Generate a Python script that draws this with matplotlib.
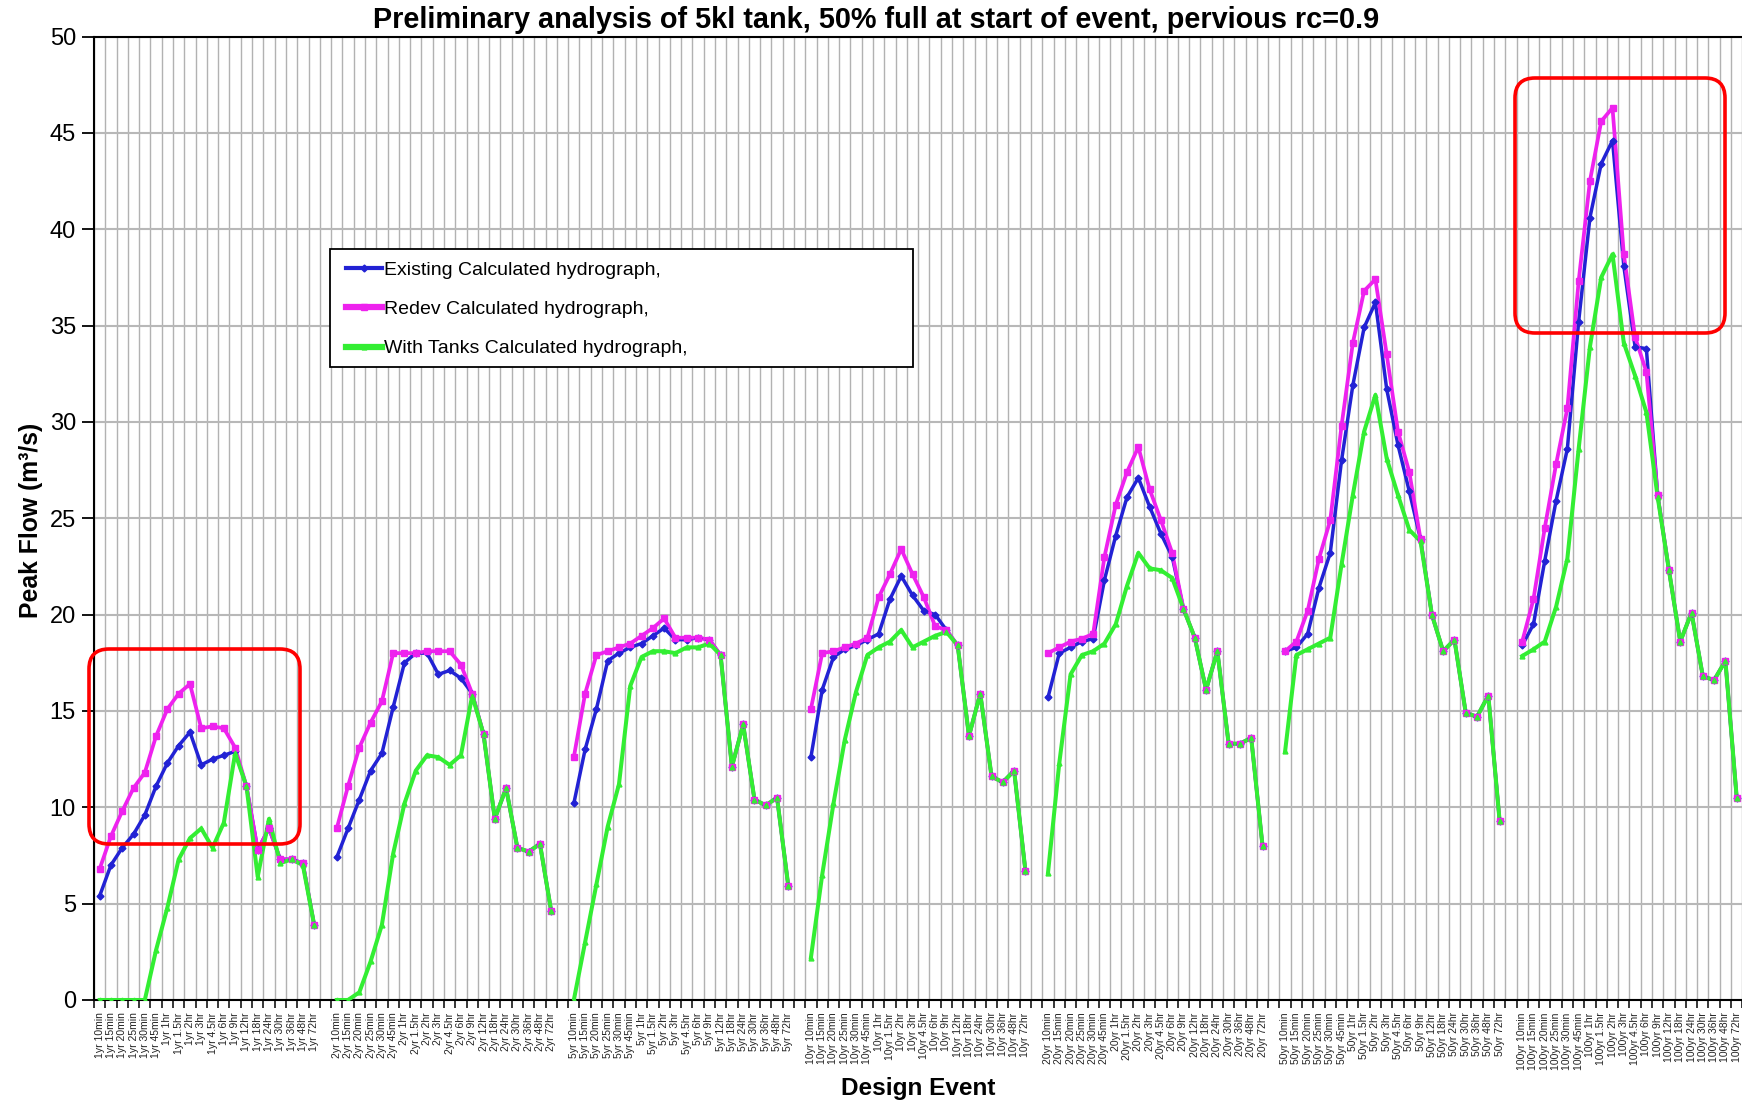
import numpy as np
import matplotlib
matplotlib.use("Agg")
import matplotlib.pyplot as plt
from matplotlib.lines import Line2D
from matplotlib.patches import Rectangle, FancyBboxPatch

plt.rcParams['font.family'] = ['Liberation Sans', 'DejaVu Sans']

# Design events: return period x storm duration
aris = ["1yr", "2yr", "5yr", "10yr", "20yr", "50yr", "100yr"]
durations = ["10min", "15min", "20min", "25min", "30min", "45min", "1hr", "1.5hr",
             "2hr", "3hr", "4.5hr", "6hr", "9hr", "12hr", "18hr", "24hr",
             "30hr", "36hr", "48hr", "72hr"]

# Peak flows (m3/s) - existing catchment
existing_1yr = [5.4, 7.0, 7.9, 8.6, 9.6, 11.1, 12.3, 13.2, 13.9, 12.2, 12.5, 12.7, 12.9, 11.1, 7.8, 8.9, 7.3, 7.3, 7.1, 3.9]
existing_2yr = [7.4, 8.9, 10.4, 11.9, 12.8, 15.2, 17.5, 18.0, 18.0, 16.9, 17.1, 16.7, 15.9, 13.8, 9.4, 11.0, 7.9, 7.7, 8.1, 4.6]
existing_5yr = [10.2, 13.0, 15.1, 17.6, 18.0, 18.3, 18.5, 18.9, 19.3, 18.7, 18.7, 18.8, 18.7, 17.9, 12.1, 14.3, 10.4, 10.1, 10.5, 5.9]
existing_10yr = [12.6, 16.1, 17.8, 18.2, 18.4, 18.7, 19.0, 20.8, 22.0, 21.0, 20.2, 20.0, 19.2, 18.4, 13.7, 15.9, 11.6, 11.3, 11.9, 6.7]
existing_20yr = [15.7, 18.0, 18.3, 18.6, 18.75, 21.8, 24.1, 26.1, 27.1, 25.6, 24.2, 23.0, 20.3, 18.8, 16.1, 18.1, 13.3, 13.3, 13.6, 8.0]
existing_50yr = [18.1, 18.3, 19.0, 21.4, 23.2, 28.0, 31.9, 34.9, 36.2, 31.7, 28.8, 26.4, 23.9, 20.0, 18.1, 18.7, 14.9, 14.7, 15.8, 9.3]
existing_100yr = [18.4, 19.5, 22.8, 25.9, 28.6, 35.2, 40.6, 43.4, 44.6, 38.1, 33.9, 33.8, 26.2, 22.3, 18.6, 20.1, 16.8, 16.6, 17.6, 10.5]

# Peak flows (m3/s) - redeveloped catchment
redev_1yr = [6.8, 8.5, 9.8, 11.0, 11.8, 13.7, 15.1, 15.9, 16.4, 14.1, 14.2, 14.1, 13.1, 11.1, 7.8, 8.9, 7.3, 7.3, 7.1, 3.9]
redev_2yr = [8.9, 11.1, 13.1, 14.4, 15.5, 18.0, 18.0, 18.0, 18.1, 18.1, 18.1, 17.4, 15.9, 13.8, 9.4, 11.0, 7.9, 7.7, 8.1, 4.6]
redev_5yr = [12.6, 15.9, 17.9, 18.1, 18.3, 18.5, 18.9, 19.3, 19.8, 18.8, 18.8, 18.8, 18.7, 17.9, 12.1, 14.3, 10.4, 10.1, 10.5, 5.9]
redev_10yr = [15.1, 18.0, 18.1, 18.3, 18.5, 18.8, 20.9, 22.1, 23.4, 22.1, 20.9, 19.4, 19.2, 18.4, 13.7, 15.9, 11.6, 11.3, 11.9, 6.7]
redev_20yr = [18.0, 18.3, 18.6, 18.75, 19.0, 23.0, 25.7, 27.4, 28.7, 26.5, 24.9, 23.2, 20.3, 18.8, 16.1, 18.1, 13.3, 13.3, 13.6, 8.0]
redev_50yr = [18.1, 18.6, 20.2, 22.9, 24.9, 29.8, 34.1, 36.8, 37.4, 33.5, 29.5, 27.4, 23.9, 20.0, 18.1, 18.7, 14.9, 14.7, 15.8, 9.3]
redev_100yr = [18.6, 20.8, 24.5, 27.8, 30.7, 37.3, 42.5, 45.6, 46.3, 38.7, 34.4, 32.6, 26.2, 22.3, 18.6, 20.1, 16.8, 16.6, 17.6, 10.5]

# Peak flows (m3/s) - redeveloped with 5kl tanks
tanks_1yr = [0.0, 0.0, 0.0, 0.0, 0.0, 2.6, 4.8, 7.3, 8.4, 8.9, 7.9, 9.2, 12.8, 11.1, 6.4, 9.4, 7.1, 7.3, 7.0, 3.9]
tanks_2yr = [0.0, 0.0, 0.4, 2.0, 3.9, 7.6, 10.2, 11.9, 12.7, 12.6, 12.2, 12.7, 15.8, 13.8, 9.4, 11.0, 7.9, 7.7, 8.1, 4.6]
tanks_5yr = [0.0, 3.0, 6.0, 9.0, 11.2, 16.3, 17.8, 18.1, 18.1, 18.0, 18.3, 18.3, 18.5, 17.9, 12.1, 14.3, 10.4, 10.1, 10.5, 5.9]
tanks_10yr = [2.2, 6.5, 10.2, 13.5, 16.0, 17.9, 18.3, 18.6, 19.2, 18.3, 18.6, 18.9, 19.1, 18.4, 13.7, 15.9, 11.6, 11.3, 11.9, 6.7]
tanks_20yr = [6.6, 12.3, 16.9, 17.9, 18.1, 18.5, 19.5, 21.5, 23.2, 22.4, 22.3, 21.9, 20.3, 18.8, 16.1, 18.1, 13.3, 13.3, 13.6, 8.0]
tanks_50yr = [12.9, 17.9, 18.2, 18.5, 18.8, 22.6, 26.2, 29.5, 31.4, 28.1, 26.2, 24.4, 23.8, 20.0, 18.1, 18.7, 14.9, 14.7, 15.8, 9.3]
tanks_100yr = [17.85, 18.2, 18.6, 20.4, 22.9, 28.6, 33.9, 37.5, 38.7, 34.1, 32.4, 30.5, 26.1, 22.3, 18.6, 20.1, 16.8, 16.6, 17.6, 10.5]

existing = [existing_1yr, existing_2yr, existing_5yr, existing_10yr, existing_20yr, existing_50yr, existing_100yr]
redev = [redev_1yr, redev_2yr, redev_5yr, redev_10yr, redev_20yr, redev_50yr, redev_100yr]
tanks = [tanks_1yr, tanks_2yr, tanks_5yr, tanks_10yr, tanks_20yr, tanks_50yr, tanks_100yr]


def join_groups(groups):
    """Concatenate the return-period groups with one blank category between."""
    out = []
    for vals in groups:
        out.extend(list(vals) + [np.nan])
    return np.array(out, dtype=float)


y_ex = join_groups(existing)
y_rd = join_groups(redev)
y_tk = join_groups(tanks)
x = np.arange(len(y_ex))

labels = []
for a in aris:
    labels += [f"{a} {d}" for d in durations] + [""]

W, H = 1742, 1104
fig = plt.figure(figsize=(W / 100, H / 100), dpi=100)
slot = 11.29
ax = fig.add_axes([94 / W, 104 / H, len(x) * slot / W, 963.5 / H])

c_ex, c_rd, c_tk = '#2222d4', '#ee22ee', '#33ee33'

# lines first, markers on top (spreadsheet-style drawing order)
ax.plot(x, y_ex, color=c_ex, lw=2.5, zorder=3)
ax.plot(x, y_rd, color=c_rd, lw=2.7, zorder=3.1)
ax.plot(x, y_tk, color=c_tk, lw=2.9, zorder=3.2)
ax.plot(x, y_ex, ls='none', marker='D', ms=3.5, color=c_ex, zorder=4)
ax.plot(x, y_rd, ls='none', marker='s', ms=4.5, color=c_rd, zorder=4.1)
ax.plot(x, y_tk, ls='none', marker='^', ms=3.5, color=c_tk, zorder=4.2)

ax.set_xlim(-0.5, len(x) - 0.5)
ax.set_ylim(0, 50)
ax.set_yticks(np.arange(0, 51, 5))
ax.tick_params(axis='y', labelsize=17, length=9, width=1.3, pad=4, colors='black')

ax.set_xticks(np.arange(len(x) + 1) - 0.5)
ax.set_xticklabels([])
ax.set_xticks(x, minor=True)
ax.set_xticklabels(labels, minor=True, rotation=90, fontsize=7.5, color='#222222')
ax.tick_params(axis='x', which='minor', length=0, pad=9)
ax.tick_params(axis='x', which='major', length=6, width=1.1, direction='out')

ax.grid(axis='x', which='major', color='#b2b2b2', lw=1.0, zorder=1)
ax.grid(axis='y', which='major', color='#b8b8b8', lw=1.5, zorder=1)
ax.set_axisbelow(True)
for side in ['top', 'left', 'bottom']:
    ax.spines[side].set_linewidth(1.5)
    ax.spines[side].set_color('black')
ax.spines['right'].set_visible(False)

fig.text(876 / W, 1 - 20 / H,
         "Preliminary analysis of 5kl tank, 50% full at start of event, pervious rc=0.9",
         fontsize=20.8, fontweight='bold', ha='center', va='center')
fig.text(31 / W, 1 - 520 / H, "Peak Flow (m³/s)", rotation=90, fontsize=17.8,
         fontweight='bold', ha='center', va='center')
fig.text(918 / W, 1 - 1089 / H, "Design Event", fontsize=17.6,
         fontweight='bold', ha='center', va='center')

# legend with a wide box
box = Rectangle((330 / W, 1 - 367 / H), (913 - 330) / W, (367 - 249) / H,
                transform=fig.transFigure, facecolor='white', edgecolor='black',
                lw=1.3, zorder=5, clip_on=False)
ax.add_patch(box)
handles = [
    Line2D([], [], color=c_ex, lw=3, marker='D', ms=3.5),
    Line2D([], [], color=c_rd, lw=4.5, marker='s', ms=4.5),
    Line2D([], [], color=c_tk, lw=4.5, marker='^', ms=3.5),
]
leg_labels = ["Existing Calculated hydrograph,",
              "Redev Calculated hydrograph,",
              "With Tanks Calculated hydrograph,"]
leg = ax.legend(handles, leg_labels, loc='upper left',
                bbox_to_anchor=(346 / W, 1 - 261 / H), bbox_transform=fig.transFigure,
                frameon=False, fontsize=14, handlelength=1.85, handletextpad=0.12,
                labelspacing=1.12, borderpad=0, borderaxespad=0)
leg.set_zorder(6)

# highlight boxes
for (x0, y0, x1, y1) in [(89, 649, 300, 844), (1515, 78, 1725, 333)]:
    hb = FancyBboxPatch((x0 / 100, (H - y1) / 100), (x1 - x0) / 100, (y1 - y0) / 100,
                        boxstyle="round,pad=0,rounding_size=0.2",
                        transform=fig.dpi_scale_trans, fill=False,
                        edgecolor='#ff0000', lw=2.6, zorder=7, clip_on=False)
    fig.add_artist(hb)

fig.savefig('out.png', dpi=100)
